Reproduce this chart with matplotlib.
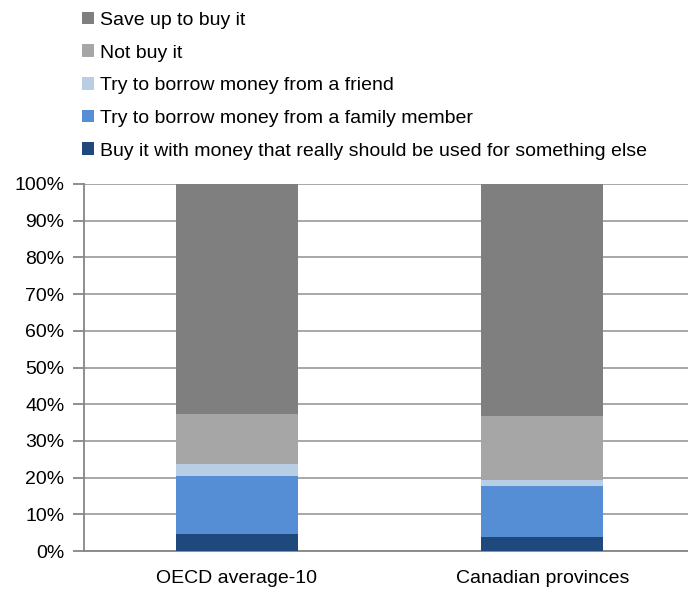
import matplotlib
matplotlib.use("Agg")
import matplotlib.pyplot as plt
import numpy as np

plt.rcParams['font.family'] = ['Liberation Sans Narrow', 'Liberation Sans', 'DejaVu Sans']

# Data (percent of respondents)
groups = ['OECD average-10', 'Canadian provinces']
series = ['Buy it with money that really should be used for something else',
          'Try to borrow money from a family member',
          'Try to borrow money from a friend',
          'Not buy it',
          'Save up to buy it']
buy_else = [4.6, 3.7]
family = [15.9, 13.9]
friend = [3.3, 1.8]
not_buy = [13.4, 17.5]
save_up = [62.8, 63.1]
colors = ['#1f497d', '#558ed5', '#b9cde5', '#a6a6a6', '#7f7f7f']

values = [buy_else, family, friend, not_buy, save_up]

fig = plt.figure(figsize=(6.88, 5.94), dpi=100)
ax = fig.add_axes([84/688, 43/594, 604/688, 367/594])

x = np.arange(len(groups))
bottom = np.zeros(len(groups))
handles = []
for name, vals, c in zip(series, values, colors):
    b = ax.bar(x, vals, 0.4, bottom=bottom, color=c, label=name, zorder=3)
    handles.append(b)
    bottom += np.array(vals)

ax.set_ylim(0, 100)
ax.set_xlim(-0.5, 1.477)
ax.set_yticks(np.arange(0, 101, 10))
ax.set_yticklabels([f'{v}%' for v in range(0, 101, 10)])
ax.yaxis.grid(True, color='#a0a0a0', linewidth=1.3, zorder=0)
ax.set_xticks(x)
ax.set_xticklabels(groups)
ax.tick_params(axis='x', length=0, labelsize=14, pad=14)
ax.tick_params(axis='y', length=8, width=1.3, color='#868686', labelsize=14, pad=6)
for s in ['top', 'right']:
    ax.spines[s].set_visible(False)
ax.spines['left'].set_color('#868686')
ax.spines['left'].set_linewidth(1.3)
ax.spines['bottom'].set_color('#868686')
ax.spines['bottom'].set_linewidth(1.3)

fig.legend(handles[::-1], series[::-1], loc='upper left', bbox_to_anchor=(70/688, 1.0),
           frameon=False, fontsize=14, handlelength=0.62, handleheight=0.62,
           handletextpad=0.3, labelspacing=0.8, borderaxespad=0.2)

fig.savefig('out.png', dpi=100)
